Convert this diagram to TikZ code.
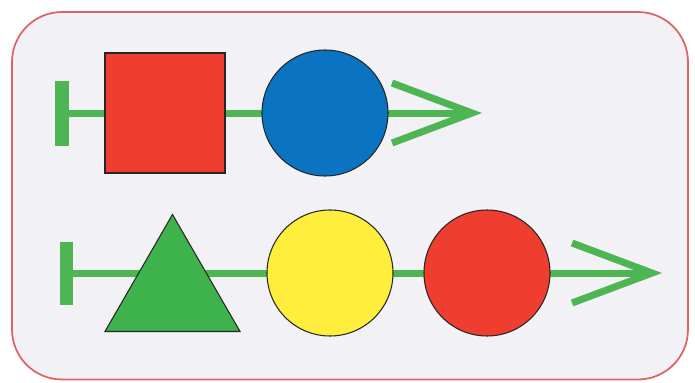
\documentclass[tikz,border=0pt]{standalone}
\usetikzlibrary{arrows.meta, shapes.geometric, backgrounds}

\definecolor{boxfill}{HTML}{F1F1F6}
\definecolor{boxline}{HTML}{DD6464}
\definecolor{flowgreen}{HTML}{4DB552}
\definecolor{shapered}{HTML}{EF3D2F}
\definecolor{shapeblue}{HTML}{0A74C2}
\definecolor{shapeyellow}{HTML}{FFEE3C}
\definecolor{shapegreen}{HTML}{3FB34B}

\begin{document}
\begin{tikzpicture}[
  flow/.style={flowgreen, line width=0.14cm},
  startbar/.style={fill=flowgreen, inner sep=0pt, minimum width=0.28cm, minimum height=1.3cm},
  token/.style={draw=black!85, line width=0.6pt, inner sep=0pt},
  >={Straight Barb[length=1.6cm, width=1.2cm]}
]

\useasboundingbox (0,0) rectangle (13.9,7.64);

% Row 1: square then circle
\node[startbar] (bar1) at (1.24,5.38) {};
\node[token, fill=shapered, rectangle, minimum size=2.4cm] (sq1) at (3.30,5.38) {};
\node[token, fill=shapeblue, circle, minimum size=2.52cm] (circ1) at (6.50,5.38) {};
\coordinate (end1) at (9.64,5.38);

% Row 2: triangle, yellow circle, red circle
\node[startbar, minimum width=0.26cm, minimum height=1.26cm] (bar2) at (1.32,2.18) {};
\node[token, fill=shapegreen, regular polygon, regular polygon sides=3, minimum size=3.12cm] (tri2) at (3.45,1.79) {};
\node[token, fill=shapeyellow, circle, minimum size=2.52cm] (circ2) at (6.60,2.18) {};
\node[token, fill=shapered, circle, minimum size=2.52cm] (circ3) at (9.74,2.18) {};
\coordinate (end2) at (13.24,2.18);

% Frame and flow lines behind the shapes
\begin{scope}[on background layer]
  \draw[boxline, fill=boxfill, line width=1pt, rounded corners=1cm] (0.24,0.05) rectangle (13.76,7.40);
  \draw[flow, ->] (bar1) -- (end1);
  \draw[flow, ->] (bar2) -- (end2);
\end{scope}

\end{tikzpicture}
\end{document}
